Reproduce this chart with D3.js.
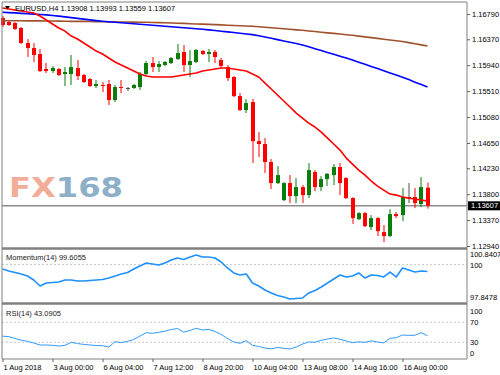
<!DOCTYPE html>
<html>
<head>
<meta charset="utf-8">
<script src="https://cdn.jsdelivr.net/npm/d3@7"></script>
<style>
  body { margin: 0; background: #fff; }
  svg { display: block; font-family: "Liberation Sans", Arial, sans-serif; }
</style>
</head>
<body>
<div id="chart"></div>
<script>
// EURUSD H4 candles
const openP = [1.16723,1.16657,1.16640,1.16557,1.16308,1.16225,1.16126,1.15877,1.15843,1.15877,
  1.15794,1.15794,1.15893,1.15777,1.15711,1.15595,1.15612,1.15628,1.15362,1.15578,
  1.15562,1.15562,1.15578,1.15794,1.15976,1.15910,1.15943,1.15976,1.16043,1.16159,
  1.15943,1.15993,1.16175,1.16126,1.16159,1.16026,1.15910,1.15744,1.15428,1.15196,
  1.15329,1.14681,1.14632,1.14333,1.13984,1.13702,1.13984,1.13768,1.13918,1.13785,
  1.14167,1.13918,1.14051,1.14117,1.14250,1.14067,1.13735,1.13387,1.13486,1.13254,
  1.13403,1.13171,1.13105,1.13470,1.13453,1.13752,1.13752,1.13636,1.13908];
const highP = [1.16756,1.16673,1.16657,1.16574,1.16375,1.16308,1.16209,1.15976,1.15926,1.15893,
  1.15910,1.16109,1.16026,1.15794,1.15727,1.15694,1.15661,1.15694,1.15612,1.15694,
  1.15578,1.15628,1.15827,1.16009,1.16076,1.16009,1.16009,1.16076,1.16292,1.16275,
  1.16192,1.16209,1.16192,1.16209,1.16192,1.16059,1.15943,1.15760,1.15478,1.15379,
  1.15379,1.14831,1.14731,1.14383,1.14266,1.14000,1.14117,1.14067,1.13951,1.14317,
  1.14200,1.14100,1.14150,1.14300,1.14317,1.14084,1.13752,1.13503,1.13503,1.13453,
  1.13420,1.13287,1.13553,1.13503,1.13901,1.13984,1.13901,1.14084,1.13993];
const lowP = [1.16574,1.16590,1.16524,1.16292,1.16076,1.15993,1.15827,1.15810,1.15810,1.15760,
  1.15595,1.15612,1.15694,1.15645,1.15578,1.15562,1.15494,1.15279,1.15329,1.15478,
  1.15512,1.15545,1.15529,1.15777,1.15827,1.15827,1.15926,1.15960,1.16026,1.15827,
  1.15744,1.15976,1.16109,1.15993,1.15976,1.15893,1.15678,1.15412,1.15180,1.15146,
  1.14317,1.14416,1.14150,1.13885,1.13968,1.13685,1.13652,1.13652,1.13652,1.13735,
  1.13851,1.13851,1.13934,1.13951,1.13785,1.13719,1.13306,1.13370,1.13254,1.13204,
  1.13105,1.13005,1.13088,1.13403,1.13353,1.13652,1.13569,1.13586,1.13559];
const closeP = [1.16607,1.16607,1.16541,1.16308,1.16225,1.16109,1.15843,1.15843,1.15893,1.15777,
  1.15827,1.15910,1.15760,1.15661,1.15595,1.15628,1.15595,1.15362,1.15578,1.15562,
  1.15562,1.15612,1.15794,1.15976,1.15910,1.15960,1.15993,1.16059,1.16142,1.15943,
  1.16009,1.16192,1.16126,1.16159,1.16076,1.15926,1.15727,1.15428,1.15196,1.15312,
  1.14681,1.14632,1.14333,1.13984,1.14117,1.13984,1.13768,1.13918,1.13785,1.14200,
  1.13918,1.14051,1.14138,1.14250,1.13984,1.13735,1.13403,1.13486,1.13270,1.13403,
  1.13187,1.13105,1.13470,1.13436,1.13752,1.13752,1.13652,1.13918,1.13607];

// moving averages
const maRed = [1.16889,1.16873,1.16856,1.16839,1.16823,1.16806,1.16756,1.16690,1.16624,1.16557,
  1.16507,1.16424,1.16375,1.16308,1.16242,1.16175,1.16126,1.16059,1.15993,1.15943,
  1.15893,1.15843,1.15794,1.15760,1.15744,1.15744,1.15744,1.15744,1.15760,1.15777,
  1.15794,1.15810,1.15843,1.15860,1.15877,1.15893,1.15893,1.15877,1.15860,1.15843,
  1.15794,1.15744,1.15644,1.15545,1.15445,1.15346,1.15246,1.15146,1.15063,1.14980,
  1.14914,1.14831,1.14731,1.14632,1.14532,1.14399,1.14300,1.14200,1.14117,1.14018,
  1.13934,1.13868,1.13802,1.13785,1.13752,1.13735,1.13719,1.13702,1.13686];
const maBlue = [1.16820,1.16813,1.16808,1.16801,1.16795,1.16788,1.16781,1.16775,1.16766,1.16755,
  1.16742,1.16730,1.16717,1.16705,1.16692,1.16680,1.16670,1.16662,1.16654,1.16645,
  1.16637,1.16629,1.16620,1.16612,1.16604,1.16595,1.16587,1.16579,1.16571,1.16562,
  1.16554,1.16544,1.16536,1.16526,1.16516,1.16504,1.16494,1.16483,1.16471,1.16459,
  1.16448,1.16428,1.16408,1.16386,1.16365,1.16343,1.16322,1.16300,1.16277,1.16247,
  1.16215,1.16184,1.16152,1.16121,1.16089,1.16058,1.16026,1.15991,1.15956,1.15920,
  1.15885,1.15848,1.15812,1.15777,1.15741,1.15701,1.15659,1.15619,1.15578];
const maBrown = [1.16677,1.16677,1.16677,1.16677,1.16675,1.16675,1.16675,1.16673,1.16673,1.16672,
  1.16670,1.16668,1.16667,1.16667,1.16665,1.16663,1.16662,1.16660,1.16658,1.16657,
  1.16657,1.16655,1.16653,1.16652,1.16650,1.16647,1.16644,1.16640,1.16637,1.16634,
  1.16629,1.16625,1.16622,1.16617,1.16614,1.16609,1.16604,1.16600,1.16595,1.16592,
  1.16587,1.16579,1.16571,1.16562,1.16554,1.16544,1.16536,1.16527,1.16519,1.16509,
  1.16499,1.16487,1.16477,1.16468,1.16458,1.16446,1.16436,1.16423,1.16411,1.16398,
  1.16385,1.16371,1.16358,1.16346,1.16333,1.16315,1.16297,1.16277,1.16258];

// indicators
const momentum = [99.747,99.632,99.546,99.459,99.344,99.114,98.769,98.941,98.970,98.999,
  99.114,99.114,99.057,99.057,99.085,99.114,99.143,99.229,99.344,99.459,
  99.546,99.747,99.920,100.093,100.035,99.977,100.093,100.265,100.380,100.294,
  100.438,100.553,100.438,100.438,100.380,100.150,99.805,99.517,99.402,99.459,
  98.941,98.769,98.539,98.366,98.222,98.136,98.021,98.049,98.078,98.366,
  98.510,98.711,98.941,99.172,99.402,99.287,99.344,99.517,99.229,99.402,
  99.373,99.287,99.574,99.287,99.805,99.690,99.574,99.632,99.6055];
const rsi = [42.2,41.4,37.6,34.2,32.0,28.6,24.6,24.6,24.0,22.6,
  24.0,30.0,27.4,25.8,24.6,23.6,23.2,20.6,31.2,29.4,
  32.0,35.6,42.6,49.2,48.0,50.0,52.2,55.6,57.6,50.2,
  53.6,58.0,54.6,55.8,51.6,45.6,37.6,30.6,28.0,33.2,
  24.0,21.6,18.6,17.0,19.6,18.0,16.6,20.6,26.6,30.6,
  30.0,34.0,36.6,38.8,36.0,32.6,29.2,31.0,29.8,32.8,
  30.6,28.8,38.0,39.2,44.6,43.8,44.2,49.2,43.0905];

// axes
const priceTicks = [1.16790,1.16370,1.15940,1.15510,1.15080,1.14650,1.14230,1.13800,1.13370,1.12940];
const momTicks = [100.8407, 100, 97.8478];
const rsiTicks = [100, 70, 30, 0];
const timeIdx = [0, 8, 16, 24, 32, 40, 48, 56, 64];
const timeLabels = ["1 Aug 2018","3 Aug 00:00","6 Aug 04:00","7 Aug 12:00","8 Aug 20:00",
  "10 Aug 04:00","13 Aug 08:00","14 Aug 16:00","16 Aug 00:00"];
const lastPrice = 1.13607;

const W = 500, H = 375;
const L = 2, R = 467;
const FONT = 7.5;

const svg = d3.select("#chart").append("svg")
  .attr("width", W)
  .attr("height", H);

const x = d3.scaleLinear().domain([0, closeP.length - 1]).range([2.5, 427.5]);
const yMain = d3.scaleLinear().domain([1.12907, 1.16989]).range([248, 2]);
const yMom = d3.scaleLinear().domain([97.8478, 100.8407]).range([302, 250]);
const yRsi = d3.scaleLinear().domain([0, 100]).range([357.3, 307.3]);

// watermark
const wm = svg.append("text")
  .attr("x", 9)
  .attr("y", 197)
  .attr("font-family", "'DejaVu Sans', sans-serif")
  .attr("font-weight", "bold")
  .attr("font-size", 27)
  .attr("textLength", 114)
  .attr("lengthAdjust", "spacingAndGlyphs");
wm.append("tspan").attr("fill", "#f2ad98").text("FX");
wm.append("tspan").attr("fill", "#8db0c8").text("168");

// dashed level lines
svg.append("line")
  .attr("x1", L).attr("x2", R)
  .attr("y1", yMom(100)).attr("y2", yMom(100))
  .attr("stroke", "#c8c8c8").attr("stroke-dasharray", "2,2");
[70, 30].forEach(v => {
  svg.append("line")
    .attr("x1", L).attr("x2", R)
    .attr("y1", yRsi(v)).attr("y2", yRsi(v))
    .attr("stroke", "#c8c8c8").attr("stroke-dasharray", "2,2");
});

// current price line
svg.append("line")
  .attr("x1", L).attr("x2", R)
  .attr("y1", yMain(lastPrice)).attr("y2", yMain(lastPrice))
  .attr("stroke", "#8c8c8c").attr("stroke-width", 1.5);

// candles
const idx = d3.range(closeP.length);
function candleColor(i) {
  if (closeP[i] > openP[i]) return "#0b7d0b";
  if (closeP[i] < openP[i]) return "#ff0000";
  return "#505050";
}

const candles = svg.append("g");
candles.selectAll("line")
  .data(idx)
  .enter()
  .append("line")
  .attr("x1", i => Math.round(x(i)))
  .attr("x2", i => Math.round(x(i)))
  .attr("y1", i => yMain(highP[i]))
  .attr("y2", i => yMain(lowP[i]))
  .attr("stroke", candleColor)
  .attr("stroke-width", 1);

candles.selectAll("rect")
  .data(idx)
  .enter()
  .append("rect")
  .attr("x", i => Math.round(x(i)) - 2)
  .attr("width", 4)
  .attr("y", i => yMain(Math.max(openP[i], closeP[i])))
  .attr("height", i => Math.max(1, Math.abs(yMain(openP[i]) - yMain(closeP[i]))))
  .attr("fill", candleColor);

// moving averages
function drawLine(values, yScale, color, width) {
  const line = d3.line()
    .x((d, i) => x(i))
    .y(d => yScale(d));
  svg.append("path")
    .datum(values)
    .attr("d", line)
    .attr("fill", "none")
    .attr("stroke", color)
    .attr("stroke-width", width)
    .attr("stroke-linejoin", "round");
}
drawLine(maBrown, yMain, "#a0522d", 1.6);
drawLine(maBlue, yMain, "#0000ff", 1.6);
drawLine(maRed, yMain, "#ff0000", 1.6);
drawLine(momentum, yMom, "#1e90ff", 1.6);
drawLine(rsi, yRsi, "#3399ff", 1);

// frames
const frame = svg.append("g").attr("stroke", "#808080").attr("fill", "none");
frame.append("line").attr("x1", L).attr("x2", R).attr("y1", 2).attr("y2", 2);
frame.append("line").attr("x1", L).attr("x2", L).attr("y1", 2).attr("y2", 359);
frame.append("line").attr("x1", R).attr("x2", R).attr("y1", 2).attr("y2", 359);
frame.append("line").attr("x1", L).attr("x2", R).attr("y1", 248.5).attr("y2", 248.5).attr("stroke-width", 2.5);
frame.append("line").attr("x1", L).attr("x2", R).attr("y1", 303.5).attr("y2", 303.5).attr("stroke-width", 2.5);
frame.append("line").attr("x1", L).attr("x2", R).attr("y1", 359).attr("y2", 359);

// right axes
function styleAxis(g) {
  g.select(".domain").remove();
  g.selectAll(".tick line").attr("stroke", "#606060");
  g.selectAll(".tick text")
    .attr("fill", "#000")
    .attr("font-size", FONT)
    .attr("font-family", "'Liberation Sans', Arial, sans-serif");
}

svg.append("g")
  .attr("transform", `translate(${R},0)`)
  .call(d3.axisRight(yMain).tickValues(priceTicks).tickSize(3).tickPadding(2)
    .tickFormat(d3.format(".5f")))
  .call(styleAxis);

const momAxis = svg.append("g")
  .attr("transform", `translate(${R},0)`)
  .call(d3.axisRight(yMom).tickValues(momTicks).tickSize(0).tickPadding(3)
    .tickFormat(d => d === 100 ? "100" : d3.format(".4f")(d)))
  .call(styleAxis);
momAxis.selectAll(".tick text").attr("dy", d => d > 100.5 ? "0.9em" : (d < 98 ? "-0.3em" : "0.32em"));

const rsiAxis = svg.append("g")
  .attr("transform", `translate(${R},0)`)
  .call(d3.axisRight(yRsi).tickValues(rsiTicks).tickSize(0).tickPadding(3)
    .tickFormat(d3.format("d")))
  .call(styleAxis);
rsiAxis.selectAll(".tick text").attr("dy", d => d === 100 ? "0.8em" : (d === 0 ? "-0.2em" : "0.32em"));

// bottom time axis
const xAxis = svg.append("g")
  .attr("transform", "translate(0,359)")
  .call(d3.axisBottom(x).tickValues(timeIdx).tickSize(3).tickPadding(3)
    .tickFormat((d, i) => timeLabels[i]))
  .call(styleAxis);
xAxis.selectAll(".tick text").attr("text-anchor", "start").attr("x", 0.5);

// current price label
const ly = yMain(lastPrice);
svg.append("rect")
  .attr("x", R + 1).attr("y", ly - 4.5)
  .attr("width", W - R - 1).attr("height", 9)
  .attr("fill", "#000");
svg.append("text")
  .attr("x", R + 4).attr("y", ly)
  .attr("dy", "0.35em")
  .attr("fill", "#fff")
  .attr("font-size", FONT)
  .text(d3.format(".5f")(lastPrice));

// titles
svg.append("path")
  .attr("d", "M5,6 L10,6 L7.5,9.5 Z")
  .attr("fill", "#000");
svg.append("text")
  .attr("x", 15).attr("y", 8)
  .attr("dy", "0.35em")
  .attr("font-size", FONT)
  .attr("fill", "#000")
  .text(`EURUSD,H4 ${openP[openP.length - 1].toFixed(5)} ${highP[highP.length - 1].toFixed(5)} ${lowP[lowP.length - 1].toFixed(5)} ${closeP[closeP.length - 1].toFixed(5)}`);

svg.append("text")
  .attr("x", 6).attr("y", 257)
  .attr("dy", "0.35em")
  .attr("font-size", FONT)
  .attr("fill", "#222")
  .text(`Momentum(14) ${momentum[momentum.length - 1].toFixed(4)}`);

svg.append("text")
  .attr("x", 6).attr("y", 313)
  .attr("dy", "0.35em")
  .attr("font-size", FONT)
  .attr("fill", "#222")
  .text(`RSI(14) ${rsi[rsi.length - 1].toFixed(4)}`);
</script>
</body>
</html>
